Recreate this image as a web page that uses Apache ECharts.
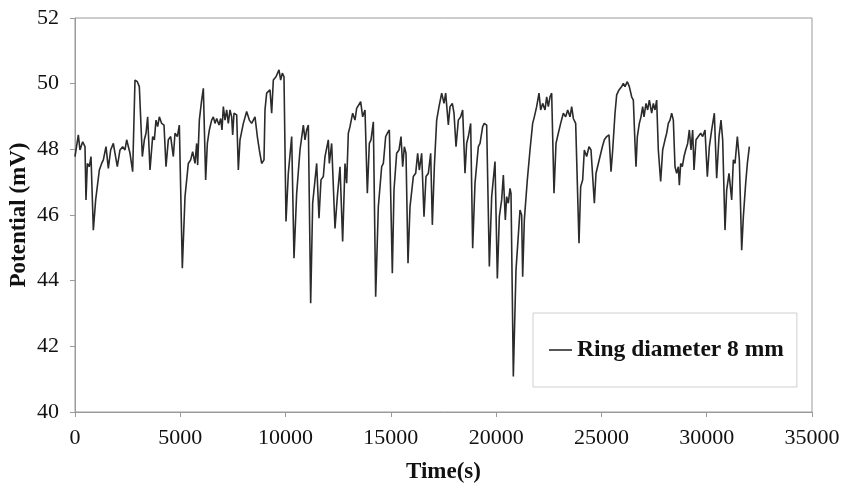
<!DOCTYPE html>
<html>
<head>
<meta charset="utf-8">
<script src="https://cdn.jsdelivr.net/npm/echarts@6/dist/echarts.min.js"></script>
<style>
html,body{margin:0;padding:0;background:#fff;}
#c{width:847px;height:492px;}
</style>
</head>
<body>
<div id="c"></div>
<script>
var seriesName = "Ring diameter 8 mm";
var xTitle = "Time(s)";
var yTitle = "Potential (mV)";

var time = [
0,158,237,364,475,522,586,681,760,871,981,1156,1266,1346,1472,1583,1694,1820,1900,2010,
2137,2264,2375,2454,2612,2739,2849,2960,3055,3198,3293,3372,3451,3562,3688,3768,3847,3926,4005,4116,
4227,4322,4432,4543,4670,4749,4860,4955,5097,5224,5382,5493,5588,5699,5778,5825,5905,6015,6095,6205,
6285,6380,6490,6569,6649,6728,6839,6918,6981,7044,7124,7203,7282,7361,7440,7488,7551,7678,7757,7836,
7915,7994,8152,8279,8390,
8548,8659,8754,8865,8976,9023,9102,9261,9340,9419,9545,9688,9767,9846,9925,10020,10131,10290,10400,10527,
10685,10844,10923,11002,11081,11192,11287,11477,11587,11682,11793,11872,12030,12078,12189,12347,12458,12585,12711,12822,
12901,12980,13059,13186,13297,13376,13455,13566,13661,13772,13883,13978,14057,14168,14279,14405,14564,14643,14754,14833,
14928,15070,15149,15276,15387,15482,15561,15640,15719,15814,15909,16067,16178,16273,16352,16463,16574,16669,16780,16891,
16970,17065,17176,17287,17414,17524,17603,
17730,17809,17920,17999,18094,18205,18315,18410,18521,18600,18680,18790,18885,18996,19154,19234,19360,19439,19550,19677,
19788,19946,20057,20152,20262,20342,20436,20500,20579,20658,20706,20816,20943,21133,21212,21260,21339,21481,21608,21734,
21814,21924,22035,22115,22210,22320,22400,22479,22558,22637,22748,22843,22953,23064,23191,23302,23397,23508,23587,23666,
23777,23935,24014,24109,24188,24299,24410,24505,24584,24664,24743,24854,24933,25044,25139,25250,25360,25455,25535,25645,
25724,25835,25961,26040,26119,26230,26325,26436,26515,26594,
26642,26705,26800,26879,26958,27022,27117,27196,27275,27386,27465,27544,27623,27702,27813,27908,28019,28098,28177,28256,
28336,28415,28494,28573,28653,28700,28764,28843,28922,29001,29096,29175,29254,29333,29397,29492,29602,29713,29808,29919,
30030,30125,30236,30362,30473,30584,30679,30758,30869,30948,31059,31186,31265,31344,31455,31550,31661,31740,31851,31930,
32025
];

var potential = [
47.78,48.44,47.98,48.23,48.08,46.46,47.57,47.47,47.78,45.54,46.46,47.37,47.57,47.68,48.08,47.42,47.98,48.18,47.88,47.47,
47.98,48.08,47.98,48.29,47.88,47.32,50.11,50.06,49.91,47.78,48.29,48.49,48.99,47.37,48.39,48.29,48.89,48.69,48.99,48.79,
48.74,47.47,48.29,48.39,47.78,48.49,48.39,48.74,44.38,46.56,47.57,47.68,47.93,47.57,48.18,47.52,48.89,49.50,49.86,47.07,
48.18,48.59,48.89,48.99,48.79,48.94,48.74,48.94,48.59,49.30,48.89,49.20,48.79,49.20,48.99,48.44,49.10,49.05,47.37,48.29,
48.23,48.79,49.15,48.89,48.79,
48.99,48.39,47.98,47.57,47.68,49.20,49.71,49.81,49.10,50.11,50.21,50.42,50.11,50.32,50.21,45.80,47.27,48.39,44.68,46.66,
47.98,48.74,48.29,48.59,48.74,43.31,46.36,47.57,45.90,47.07,47.17,47.78,48.29,47.57,48.18,45.59,46.56,47.47,45.19,47.57,
46.97,48.49,48.69,49.10,48.89,49.25,49.20,49.45,48.99,49.20,46.66,48.18,48.29,48.84,43.51,46.25,47.47,47.57,48.39,48.49,
48.59,44.23,46.76,47.88,47.98,48.39,47.47,48.08,47.88,44.53,46.25,47.17,47.27,47.88,47.37,47.88,45.95,47.17,47.27,47.88,
45.70,47.47,48.89,49.30,49.71,49.40,49.71,
48.74,49.30,49.40,49.10,48.08,48.89,48.99,49.20,47.27,48.18,48.39,48.79,44.99,46.97,48.08,48.18,48.69,48.79,48.74,44.43,
46.56,47.63,44.07,45.95,46.46,47.22,45.85,46.56,46.36,46.81,46.66,41.08,44.33,46.15,46.00,44.12,45.85,47.07,47.98,48.79,
48.99,49.30,49.71,49.20,49.40,49.20,49.60,49.30,49.60,49.71,46.66,48.18,48.49,48.79,49.10,48.99,49.20,48.99,49.30,48.94,
48.79,45.14,46.86,47.07,47.98,47.78,48.08,47.98,47.98,46.36,47.27,47.57,47.78,48.08,48.29,48.39,48.44,47.32,47.98,49.10,
49.66,49.81,49.91,50.01,49.91,50.06,49.91,49.60,49.50,48.18,
47.47,48.39,48.79,48.99,49.30,48.99,49.40,49.20,49.50,49.10,49.40,49.20,49.50,47.98,47.02,47.98,48.29,48.49,48.79,48.89,
49.10,48.89,47.47,47.27,47.47,46.91,47.57,47.47,47.78,47.98,48.18,48.59,47.98,48.59,47.37,48.29,48.39,48.49,48.39,48.59,
47.17,48.08,48.59,49.10,47.12,48.39,48.89,48.29,45.54,46.76,47.27,46.46,47.68,47.57,48.39,47.68,44.93,45.95,46.97,47.57,
48.08
];

var xTicks = {min: 0, max: 35000, interval: 5000};
var yTicks = {min: 40, max: 52, interval: 2};

var data = time.map(function (t, i) { return [t, potential[i]]; });

var font = "'Liberation Serif', 'Times New Roman', serif";
var chart = echarts.init(document.getElementById('c'), null, {renderer: 'canvas'});
chart.setOption({
  animation: false,
  backgroundColor: '#ffffff',
  grid: {left: 75, right: 35, top: 18, bottom: 80, show: true, borderColor: '#9a9a9a', borderWidth: 1,
    containLabel: false, outerBoundsMode: 'none'},
  legend: {
    data: [seriesName],
    left: 533, top: 313,
    padding: [25, 13, 25, 16],
    borderColor: '#cfcfcf', borderWidth: 1,
    itemWidth: 23, itemHeight: 14,
    icon: 'path://M0,0L23,0L23,1.6L0,1.6Z',
    textStyle: {fontFamily: font, fontSize: 23.5, fontWeight: 'bold', color: '#111'}
  },
  xAxis: {
    type: 'value', min: xTicks.min, max: xTicks.max, interval: xTicks.interval,
    name: xTitle, nameLocation: 'middle', nameGap: 49, nameMoveOverlap: false,
    nameTextStyle: {fontFamily: font, fontSize: 23, fontWeight: 'bold', color: '#111'},
    axisLine: {show: true, lineStyle: {color: '#9a9a9a', width: 1}},
    axisTick: {show: true, inside: false, length: 5, lineStyle: {color: '#9a9a9a'}},
    axisLabel: {fontFamily: font, fontSize: 22, color: '#111', margin: 15,
      formatter: function (v) { return String(v); }},
    splitLine: {show: false}
  },
  yAxis: {
    type: 'value', min: yTicks.min, max: yTicks.max, interval: yTicks.interval,
    name: yTitle, nameLocation: 'middle', nameGap: 44, nameRotate: 90, nameMoveOverlap: false,
    nameTextStyle: {fontFamily: font, fontSize: 23, fontWeight: 'bold', color: '#111'},
    axisLine: {show: true, lineStyle: {color: '#9a9a9a', width: 1}},
    axisTick: {show: true, inside: false, length: 5, lineStyle: {color: '#9a9a9a'}},
    axisLabel: {fontFamily: font, fontSize: 22, color: '#111', margin: 16},
    splitLine: {show: false}
  },
  series: [{
    name: seriesName,
    type: 'line',
    data: data,
    symbol: 'none',
    smooth: false,
    lineStyle: {color: '#2b2b2b', width: 1.6},
    itemStyle: {color: '#2b2b2b'}
  }]
});
</script>
</body>
</html>
